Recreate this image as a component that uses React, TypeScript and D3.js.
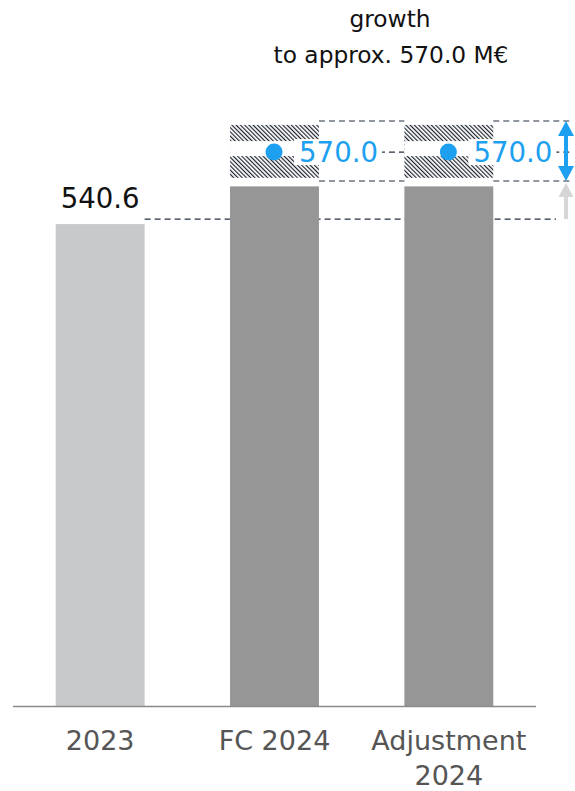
import React from "react";
import * as d3 from "d3";

const categories = ["2023", "FC 2024", "Adjustment 2024"];
const categoryLines = [["2023"], ["FC 2024"], ["Adjustment", "2024"]];
const barValues = [540.6, 556, 556];
const barColors = ["#c8c9cb", "#969696", "#969696"];
const valueLabel2023 = "540.6";
const forecastValue = 570.0;
const forecastLabels = ["570.0", "570.0"];
const rangeLow = 559.5;
const rangeHigh = 581.1;
const bandLow = 558.2;
const bandHigh = 582.7;
const titleLines = ["growth", "to approx. 570.0 M€"];

const W = 575;
const H = 791;
const FONT = "'DejaVu Sans', 'Open Sans', sans-serif";

export default function App() {
  const x = d3
    .scaleBand<string>()
    .domain(categories)
    .range([13, 536])
    .paddingInner(0.49)
    .paddingOuter(0.245);
  const y = d3.scaleLinear().domain([343.8, 582.7]).range([706, 121]);
  const bw = x.bandwidth();
  const blue = "#1ea0f0";
  const dash = "#253044";
  const refY = y(barValues[0]) - 5;
  const arrowX = 566;

  const fc = categories[1];
  const adj = categories[2];
  const hatchCats = [fc, adj];

  const yMid = y(forecastValue);
  const dashedSegs = [
    [x(fc)! + bw, x(adj)!],
    [x(adj)! + bw, 572],
  ];

  return (
    <svg
      width={W}
      height={H}
      style={{ position: "absolute", left: 0, top: 0 }}
      fontFamily={FONT}
    >
      <defs>
        <pattern
          id="hatch"
          patternUnits="userSpaceOnUse"
          width={3}
          height={3}
          patternTransform="rotate(-45)"
        >
          <rect width={3} height={3} fill="#fff" />
          <line x1={0.6} y1={0} x2={0.6} y2={3} stroke="#0d1420" strokeWidth={1.1} />
        </pattern>
      </defs>

      {/* title */}
      <text x={390} y={27} textAnchor="middle" fontSize={23.3} fill="#111">
        {titleLines[0]}
      </text>
      <text x={391} y={63} textAnchor="middle" fontSize={23.3} fill="#111">
        {titleLines[1]}
      </text>

      {/* reference dashed line at 2023 level */}
      <line
        x1={x(categories[0])! + bw}
        x2={556}
        y1={refY}
        y2={refY}
        stroke={dash}
        strokeWidth={1.2}
        strokeDasharray="6 4"
      />

      {/* bars */}
      {categories.map((c, i) => (
        <rect
          key={c}
          x={x(c)}
          y={y(barValues[i])}
          width={bw}
          height={y(343.8) - y(barValues[i])}
          fill={barColors[i]}
        />
      ))}

      {/* axis line */}
      <line x1={13} x2={536} y1={706.5} y2={706.5} stroke="#8a8a8a" strokeWidth={1.5} />

      {/* band dashed lines */}
      {dashedSegs.map(([a, b], i) => (
        <g key={i}>
          <line x1={a} x2={b} y1={y(bandHigh)} y2={y(bandHigh)} stroke={dash} strokeWidth={1.2} strokeDasharray="6 4" />
          <line x1={a} x2={b} y1={y(bandLow)} y2={y(bandLow)} stroke={dash} strokeWidth={1.2} strokeDasharray="6 4" />
          <line x1={a} x2={b} y1={yMid} y2={yMid} stroke={dash} strokeWidth={1.2} strokeDasharray="6 4" />
        </g>
      ))}

      {/* hatched ranges with dot and label */}
      {hatchCats.map((c, i) => {
        const x0 = x(c)!;
        return (
          <g key={c}>
            <rect x={x0} y={y(rangeHigh)} width={bw} height={y(rangeLow) - y(rangeHigh)} fill="url(#hatch)" />
            <rect x={x0} y={yMid - 11} width={bw} height={15} fill="#fff" />
            <rect x={x0 + 64} y={yMid - 13} width={88} height={26} fill="#fff" />
            <circle cx={x0 + 44} cy={yMid} r={8.5} fill={blue} />
            <text x={x0 + 69} y={yMid + 10} fontSize={27.6} fill={blue}>
              {forecastLabels[i]}
            </text>
          </g>
        );
      })}

      {/* 2023 value label */}
      <text x={x(categories[0])! + bw / 2} y={208} textAnchor="middle" fontSize={27.6} fill="#111">
        {valueLabel2023}
      </text>

      {/* gray arrow */}
      <rect x={arrowX - 2} y={y(bandLow) + 14} width={4} height={refY - y(bandLow) - 14} fill="#d6d6d6" />
      <path
        d={`M${arrowX},${y(bandLow) + 2} L${arrowX + 7.5},${y(bandLow) + 16} L${arrowX - 7.5},${y(bandLow) + 16} Z`}
        fill="#d6d6d6"
      />

      {/* blue double arrow */}
      <rect x={arrowX - 2} y={y(bandHigh) + 12} width={4} height={y(bandLow) - y(bandHigh) - 24} fill={blue} />
      <path
        d={`M${arrowX},${y(bandHigh)} L${arrowX + 8},${y(bandHigh) + 15} L${arrowX - 8},${y(bandHigh) + 15} Z`}
        fill={blue}
      />
      <path
        d={`M${arrowX},${y(bandLow)} L${arrowX + 8},${y(bandLow) - 15} L${arrowX - 8},${y(bandLow) - 15} Z`}
        fill={blue}
      />

      {/* category labels */}
      {categories.map((c, i) => (
        <text key={c} textAnchor="middle" fontSize={27} fill="#555">
          {categoryLines[i].map((ln, j) => (
            <tspan key={j} x={x(c)! + bw / 2} y={750 + j * 35}>
              {ln}
            </tspan>
          ))}
        </text>
      ))}
    </svg>
  );
}
